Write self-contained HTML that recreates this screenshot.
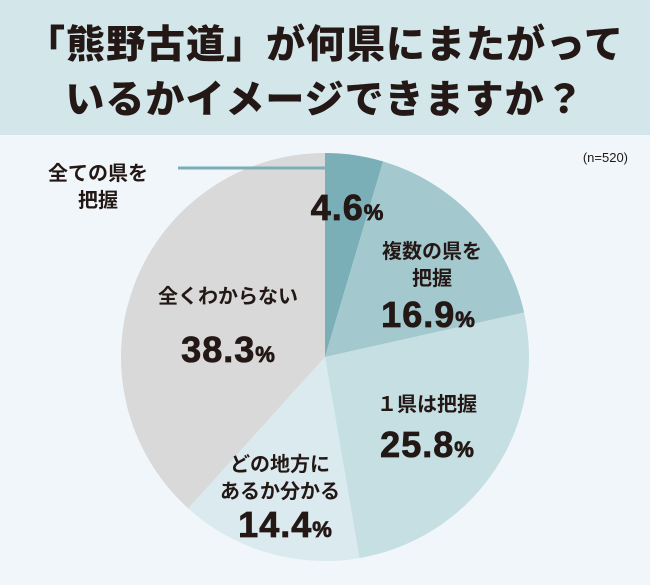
<!DOCTYPE html>
<html><head><meta charset="utf-8"><style>
html,body{margin:0;padding:0}
body{width:650px;height:585px;overflow:hidden;background:#f0f6f9;font-family:"Liberation Sans","Noto Sans CJK JP",sans-serif}
#title{position:absolute;left:0;top:0;width:650px;height:135px;background:#d3e6ea;text-align:center;font-weight:900;font-size:39px;line-height:55px;color:#231815;padding-top:18px;box-sizing:border-box;letter-spacing:1px;white-space:nowrap}
svg{position:absolute;left:0;top:0}
</style></head><body>
<div id="title">「熊野古道」が何県にまたがって<br>いるかイメージできますか？</div>
<svg width="650" height="585">
<g id="slices"></g>
<line x1="178" y1="168" x2="325" y2="168" stroke="#7aafb7" stroke-width="3"/>
<text x="628" y="162" font-size="13" text-anchor="end" fill="#231815">(n=520)</text>
<g id="labels" font-weight="bold" fill="#231815" text-anchor="middle"></g>
</svg>
<script>
const categories=["全ての県を把握","複数の県を把握","1県は把握","どの地方にあるか分かる","全くわからない"];
const values=[4.6,16.9,25.8,14.4,38.3];
const colors=["#7aafb7","#a3c8cd","#c5dfe3","#daeaee","#d9d9d9"];
const cx=325,cy=357,r=204;
const ns="http://www.w3.org/2000/svg";
const total=values.reduce((a,b)=>a+b,0);
let a0=0;
const g=document.getElementById('slices');
values.forEach((v,i)=>{
 const a1=a0+v/total*2*Math.PI;
 const x0=cx+r*Math.sin(a0),y0=cy-r*Math.cos(a0),x1=cx+r*Math.sin(a1),y1=cy-r*Math.cos(a1);
 const p=document.createElementNS(ns,'path');
 p.setAttribute('d',`M${cx},${cy}L${x0},${y0}A${r},${r} 0 ${a1-a0>Math.PI?1:0} 1 ${x1},${y1}Z`);
 p.setAttribute('fill',colors[i]);
 
 
 g.appendChild(p);
 a0=a1;
});
const layout=[
 [["全ての県を","把握"],98,180,347,220],
 [["複数の県を","把握"],432,258,428,327],
 [["１県は把握"],427,411,427,457],
 [["どの地方に","あるか分かる"],280,471,285,537],
 [["全くわからない"],228,303,228,362]
];
const lg=document.getElementById('labels');
layout.forEach((L,i)=>{
 L[0].forEach((s,j)=>{
  const t=document.createElementNS(ns,'text');
  t.setAttribute('x',L[1]);t.setAttribute('y',L[2]+j*27);
  t.setAttribute('font-size','20');
  t.textContent=s;
  
  
  lg.appendChild(t);
 });
 const t=document.createElementNS(ns,'text');
 t.setAttribute('x',L[3]);t.setAttribute('y',L[4]);
 t.setAttribute('font-size','36');t.setAttribute('font-weight','900');
 t.setAttribute('letter-spacing','1');
 t.setAttribute('stroke','#231815');t.setAttribute('stroke-width','0.8');
 t.innerHTML=values[i].toFixed(1)+'<tspan font-size="22" letter-spacing="0">%</tspan>';
 
 
 lg.appendChild(t);
});
</script>
</body></html>
